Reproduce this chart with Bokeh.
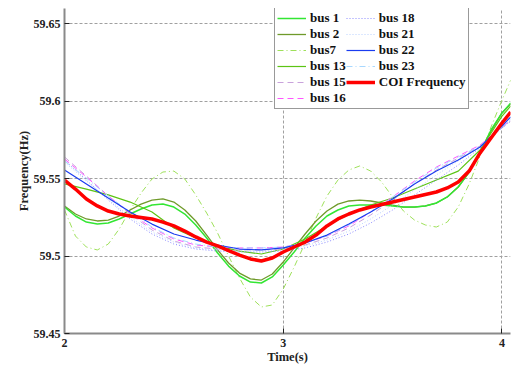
from bokeh.plotting import figure
from bokeh.models import Range1d, FixedTicker, CustomJSTickFormatter, Legend, LegendItem
from bokeh.embed import file_html
from bokeh.resources import INLINE

# time axes (s)
t_fine = [2.00, 2.05, 2.10, 2.15, 2.20, 2.25, 2.30, 2.35, 2.40, 2.45,
          2.50, 2.55, 2.60, 2.65, 2.70, 2.75, 2.80, 2.85, 2.90, 2.95,
          3.00, 3.05, 3.10, 3.15, 3.20, 3.25, 3.30, 3.35, 3.40, 3.45,
          3.50, 3.55, 3.60, 3.65, 3.70, 3.75, 3.80, 3.85, 3.90, 3.95,
          4.00, 4.04]
t_coarse = [2.0, 2.1, 2.2, 2.3, 2.4, 2.5, 2.6, 2.7, 2.8, 2.9,
            3.0, 3.1, 3.2, 3.3, 3.4, 3.5, 3.6, 3.7, 3.8, 3.9, 4.0, 4.04]

# frequencies (Hz), sampled on t_fine
bus1 = [59.5316, 59.5258, 59.5219, 59.5206, 59.5213, 59.5239, 59.5271, 59.5303, 59.5329, 59.5335,
        59.5316, 59.5271, 59.5200, 59.5116, 59.5019, 59.4935, 59.4871, 59.4832, 59.4826, 59.4865,
        59.4942, 59.5026, 59.5116, 59.5194, 59.5258, 59.5297, 59.5323, 59.5329, 59.5329, 59.5329,
        59.5323, 59.5316, 59.5316, 59.5323, 59.5342, 59.5381, 59.5445, 59.5542, 59.5671, 59.5813,
        59.5923, 59.5987]
bus2 = [59.5323, 59.5271, 59.5239, 59.5226, 59.5232, 59.5258, 59.5297, 59.5335, 59.5361, 59.5368,
        59.5348, 59.5297, 59.5226, 59.5135, 59.5039, 59.4955, 59.4890, 59.4852, 59.4845, 59.4884,
        59.4961, 59.5052, 59.5142, 59.5226, 59.5290, 59.5335, 59.5355, 59.5361, 59.5355, 59.5342,
        59.5329, 59.5316, 59.5316, 59.5323, 59.5342, 59.5381, 59.5445, 59.5542, 59.5671, 59.5806,
        59.5923, 59.5981]
bus7 = [59.5297, 59.5129, 59.5058, 59.5039, 59.5077, 59.5174, 59.5297, 59.5406, 59.5497, 59.5542,
        59.5548, 59.5497, 59.5394, 59.5277, 59.5148, 59.5000, 59.4858, 59.4735, 59.4671, 59.4684,
        59.4787, 59.4929, 59.5084, 59.5245, 59.5387, 59.5490, 59.5555, 59.5581, 59.5548, 59.5477,
        59.5381, 59.5290, 59.5232, 59.5200, 59.5187, 59.5219, 59.5316, 59.5465, 59.5645, 59.5832,
        59.6006, 59.6135]
coi = [59.5490, 59.5432, 59.5368, 59.5323, 59.5290, 59.5271, 59.5258, 59.5248, 59.5239, 59.5219,
       59.5194, 59.5161, 59.5123, 59.5090, 59.5065, 59.5035, 59.5006, 59.4981, 59.4968, 59.4987,
       59.5026, 59.5058, 59.5090, 59.5135, 59.5194, 59.5239, 59.5271, 59.5297, 59.5316, 59.5332,
       59.5348, 59.5365, 59.5381, 59.5397, 59.5413, 59.5439, 59.5477, 59.5548, 59.5665, 59.5761,
       59.5858, 59.5929]

# frequencies (Hz), sampled on t_coarse
bus13 = [59.5465, 59.5432, 59.5394, 59.5348, 59.5284, 59.5181, 59.5116, 59.5065, 59.5032, 59.5013,
         59.5045, 59.5110, 59.5194, 59.5271, 59.5329, 59.5374, 59.5432, 59.5490, 59.5548, 59.5684,
         59.5903, 59.5968]
bus15 = [59.5639, 59.5516, 59.5387, 59.5271, 59.5168, 59.5097, 59.5058, 59.5045, 59.5039, 59.5039,
         59.5045, 59.5071, 59.5116, 59.5181, 59.5265, 59.5361, 59.5465, 59.5555, 59.5632, 59.5710,
         59.5826, 59.5871]
bus16 = [59.5626, 59.5510, 59.5387, 59.5277, 59.5181, 59.5110, 59.5071, 59.5058, 59.5052, 59.5052,
         59.5058, 59.5084, 59.5129, 59.5194, 59.5284, 59.5381, 59.5484, 59.5574, 59.5645, 59.5716,
         59.5832, 59.5877]
bus18 = [59.5619, 59.5490, 59.5361, 59.5239, 59.5142, 59.5077, 59.5045, 59.5032, 59.5026, 59.5026,
         59.5032, 59.5052, 59.5090, 59.5142, 59.5213, 59.5297, 59.5394, 59.5490, 59.5587, 59.5697,
         59.5826, 59.5871]
bus21 = [59.5606, 59.5484, 59.5368, 59.5252, 59.5155, 59.5090, 59.5052, 59.5039, 59.5032, 59.5032,
         59.5039, 59.5065, 59.5103, 59.5161, 59.5239, 59.5329, 59.5426, 59.5523, 59.5613, 59.5703,
         59.5832, 59.5877]
bus22 = [59.5555, 59.5465, 59.5374, 59.5284, 59.5206, 59.5142, 59.5103, 59.5071, 59.5045, 59.5039,
         59.5052, 59.5084, 59.5135, 59.5206, 59.5284, 59.5368, 59.5465, 59.5548, 59.5619, 59.5703,
         59.5839, 59.5897]
bus23 = [59.5613, 59.5503, 59.5387, 59.5284, 59.5187, 59.5116, 59.5077, 59.5058, 59.5052, 59.5052,
         59.5058, 59.5084, 59.5129, 59.5200, 59.5284, 59.5381, 59.5477, 59.5568, 59.5639, 59.5710,
         59.5832, 59.5884]

x_ticks = [2, 3, 4]
y_ticks = [59.45, 59.5, 59.55, 59.6, 59.65]

FONT = "Liberation Serif"

p = figure(width=516, height=368, output_backend="svg", toolbar_location=None,
           x_range=Range1d(2, 4.039), y_range=Range1d(59.45, 59.6597),
           min_border_left=64, min_border_right=6, min_border_top=8, min_border_bottom=35)
p.outline_line_color = None
p.background_fill_color = "white"
p.border_fill_color = "white"

for ax, ticks in ((p.xaxis[0], x_ticks), (p.yaxis[0], y_ticks)):
    ax.ticker = FixedTicker(ticks=ticks)
    ax.axis_line_color = "#8a8a8a"
    ax.axis_line_width = 2
    ax.major_tick_in = 5
    ax.major_tick_out = 0
    ax.major_tick_line_color = "#222222"
    ax.minor_tick_line_color = None
    ax.major_label_text_font = FONT
    ax.major_label_text_font_style = "bold"
    ax.major_label_text_font_size = "12px"
    ax.major_label_text_color = "#222222"
    ax.axis_label_text_font = FONT
    ax.axis_label_text_font_style = "bold"
    ax.axis_label_text_font_size = "12.5px"
    ax.axis_label_text_color = "#222222"

p.yaxis[0].formatter = CustomJSTickFormatter(code="return String(Number(tick.toFixed(2)));")
p.xaxis[0].axis_label = "Time(s)"
p.yaxis[0].axis_label = "Frequency(Hz)"
p.xaxis[0].major_label_standoff = 5
p.xaxis[0].axis_label_standoff = 0
p.yaxis[0].major_label_standoff = 4
p.yaxis[0].axis_label_standoff = 0

p.xgrid[0].ticker = p.xaxis[0].ticker
p.ygrid[0].ticker = p.yaxis[0].ticker
for g in (p.xgrid[0], p.ygrid[0]):
    g.grid_line_color = "#a0a0a0"
    g.grid_line_dash = "3 2"
    g.grid_line_width = 1

r7 = p.line(t_fine, bus7, line_color="#9ee05a", line_width=1, line_dash="6 3 1 3")
r2 = p.line(t_fine, bus2, line_color="#6f9a2a", line_width=1.3)
r1 = p.line(t_fine, bus1, line_color="#33e633", line_width=1.5)
r13 = p.line(t_coarse, bus13, line_color="#5cc414", line_width=1.2)
r15 = p.line(t_coarse, bus15, line_color="#c9a2dc", line_width=1, line_dash="6 4")
r16 = p.line(t_coarse, bus16, line_color="#ff55ff", line_width=1, line_dash="6 4")
r18 = p.line(t_coarse, bus18, line_color="#8a8aff", line_width=1, line_dash="1 2")
r21 = p.line(t_coarse, bus21, line_color="#b8d0ff", line_width=1, line_dash="1 2")
r23 = p.line(t_coarse, bus23, line_color="#a8d8ff", line_width=1, line_dash="6 3 1 3")
r22 = p.line(t_coarse, bus22, line_color="#1a3cf0", line_width=1.2)
rc = p.line(t_fine, coi, line_color="#ff0000", line_width=3.5, line_join="round")

items = [
    LegendItem(label="bus 1", renderers=[r1]),
    LegendItem(label="bus 2", renderers=[r2]),
    LegendItem(label="bus7", renderers=[r7]),
    LegendItem(label="bus 13", renderers=[r13]),
    LegendItem(label="bus 15", renderers=[r15]),
    LegendItem(label="bus 16", renderers=[r16]),
    LegendItem(label="bus 18", renderers=[r18]),
    LegendItem(label="bus 21", renderers=[r21]),
    LegendItem(label="bus 22", renderers=[r22]),
    LegendItem(label="bus 23", renderers=[r23]),
    LegendItem(label="COI Frequency", renderers=[rc]),
]
legend = Legend(items=items, location=(210, 224), orientation="vertical", nrows=6,
                label_text_font=FONT, label_text_font_style="bold", label_text_font_size="13px",
                label_text_color="#111111", glyph_width=29, glyph_height=16, label_height=16,
                label_standoff=4, spacing=0, padding=2, margin=0,
                border_line_color="#333333", border_line_width=1,
                background_fill_color="white", background_fill_alpha=1.0)
p.add_layout(legend, "center")

open("out.html", "w").write(file_html(p, INLINE))
